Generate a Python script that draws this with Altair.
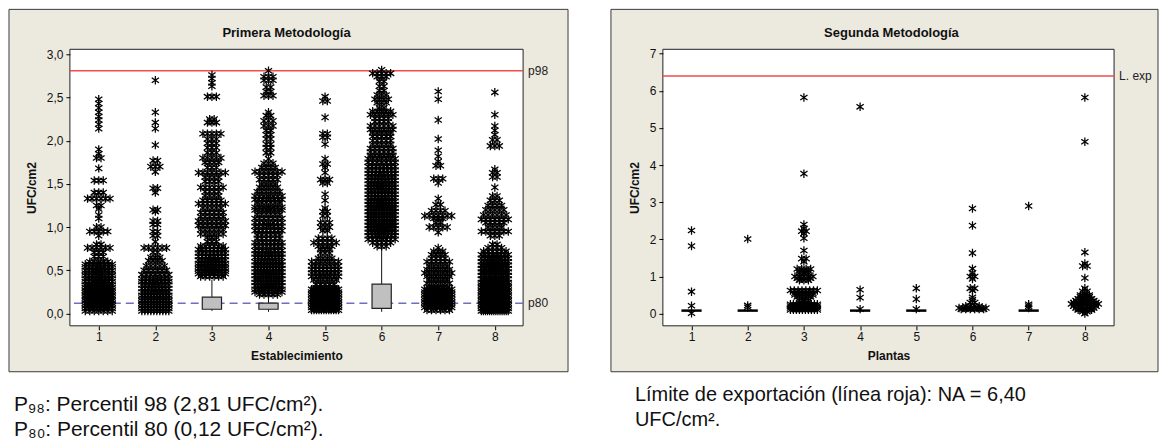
import altair as alt
import pandas as pd

# ---------------- data: Primera Metodología (Establecimiento 1..8) ----------------
g1_vals = [2.48,2.43,2.38,2.33,2.28,2.24,2.19,2.14,1.90,1.85,1.80,1.68,1.54,1.40,1.33,1.25,1.21,1.14,1.10,1.00,0.95,0.90,0.80,0.76,0.71,0.66,0.60,0.57,0.54,0.50,0.47,0.44,0.40,0.37,0.33,0.30,0.27,0.24,0.21,0.18,0.15,0.12,0.09,0.06,0.03]
g1_cnts = [1,1,1,1,1,1,1,1,1,1,2,1,3,3,6,2,1,1,1,2,5,1,2,6,3,3,5,8,8,9,8,9,9,8,10,12,14,16,18,16,14,12,10,8,7]
g2_vals = [2.70,2.33,2.21,2.14,1.95,1.77,1.70,1.64,1.45,1.40,1.20,1.18,1.07,1.03,0.95,0.90,0.83,0.76,0.71,0.65,0.61,0.55,0.50,0.45,0.40,0.37,0.33,0.29,0.25,0.21,0.18,0.15,0.12,0.09,0.06,0.03]
g2_cnts = [1,1,1,1,1,2,3,1,2,1,2,1,2,2,2,2,1,6,2,3,4,5,6,7,8,8,9,9,10,10,10,10,10,10,10,10]
g3_vals = [2.76,2.72,2.67,2.63,2.51,2.25,2.21,2.08,2.02,1.97,1.92,1.86,1.80,1.75,1.69,1.63,1.58,1.53,1.46,1.41,1.36,1.31,1.27,1.22,1.17,1.12,1.07,1.02,0.97,0.92,0.88,0.83,0.78,0.74,0.70,0.66,0.62,0.58,0.55,0.52,0.49,0.46,0.43]
g3_cnts = [1,1,1,1,3,2,3,5,3,3,3,3,5,4,3,7,4,4,6,4,4,5,7,5,6,6,7,7,6,6,3,3,6,8,8,8,9,10,10,10,9,8,6]
g4_vals = [2.81,2.74,2.70,2.62,2.57,2.52,2.33,2.29,2.23,2.17,2.12,2.07,2.02,1.96,1.92,1.86,1.79,1.74,1.69,1.64,1.60,1.55,1.50,1.46,1.41,1.36,1.32,1.28,1.23,1.20,1.15,1.10,1.05,1.01,0.96,0.91,0.87,0.82,0.78,0.73,0.69,0.65,0.60,0.56,0.52,0.48,0.44,0.40,0.36,0.32,0.28,0.25,0.22]
g4_cnts = [1,3,3,2,2,3,1,2,3,3,2,2,2,2,2,2,1,3,4,7,5,5,4,5,6,7,8,6,7,8,6,7,7,8,8,6,6,8,8,8,9,9,10,10,10,10,11,11,11,10,9,7,5]
g5_vals = [2.51,2.46,2.27,2.08,2.04,1.96,1.79,1.73,1.69,1.63,1.55,1.51,1.38,1.31,1.22,1.18,1.13,1.05,1.00,0.96,0.87,0.82,0.78,0.74,0.70,0.64,0.60,0.55,0.51,0.47,0.43,0.39,0.34,0.30,0.28,0.25,0.22,0.19,0.16,0.13,0.10,0.07,0.04]
g5_cnts = [1,2,1,2,2,1,1,2,1,1,3,2,1,1,1,2,2,3,3,2,4,6,4,3,3,4,7,8,8,8,7,6,5,5,14,14,14,14,14,14,14,14,12]
g6_vals = [2.82,2.78,2.74,2.69,2.63,2.58,2.53,2.48,2.44,2.38,2.34,2.30,2.26,2.22,2.17,2.13,2.09,2.05,2.00,1.96,1.91,1.87,1.83,1.79,1.75,1.70,1.66,1.62,1.58,1.54,1.50,1.46,1.42,1.38,1.34,1.30,1.26,1.22,1.18,1.14,1.10,1.06,1.02,0.98,0.94,0.90,0.86,0.82,0.78]
g6_cnts = [1,5,3,2,2,2,3,4,3,2,5,6,4,4,6,6,5,5,5,5,6,6,6,7,7,8,8,8,9,9,10,10,9,9,9,10,10,11,11,11,11,11,11,10,9,8,7,5,3]
g7_vals = [2.57,2.48,2.24,2.02,1.89,1.82,1.76,1.71,1.56,1.51,1.33,1.26,1.19,1.13,1.10,1.05,1.00,0.94,0.76,0.72,0.68,0.64,0.60,0.55,0.51,0.47,0.43,0.39,0.35,0.30,0.28,0.25,0.22,0.19,0.16,0.13,0.10,0.07,0.04]
g7_cnts = [1,1,1,1,1,1,1,2,3,1,1,2,4,7,3,2,5,1,1,3,4,4,6,5,6,7,6,5,6,5,12,12,12,12,12,12,12,10,6]
g8_vals = [2.56,2.30,2.17,2.12,2.07,2.01,1.94,1.67,1.63,1.58,1.46,1.36,1.31,1.25,1.20,1.14,1.09,1.05,1.00,0.95,0.90,0.80,0.76,0.72,0.68,0.64,0.60,0.56,0.52,0.48,0.44,0.40,0.36,0.33,0.30,0.27,0.24,0.21,0.18,0.15,0.12,0.09,0.06,0.03]
g8_cnts = [1,1,1,1,1,2,3,1,2,2,1,2,3,4,5,6,7,5,4,7,3,2,4,6,8,9,10,11,12,12,12,12,13,14,15,15,15,15,15,15,15,15,15,14]

# visible boxes (Establecimiento 3, 4, 6)
box_groups = [3, 4, 6]
box_q1 = [0.05, 0.05, 0.06]
box_q3 = [0.19, 0.12, 0.34]
box_whi = [0.39, 0.22, 0.77]
box_wlo = [0.03, 0.02, 0.02]
p98 = 2.81
p80 = 0.12

# ---------------- data: Segunda Metodología (Plantas 1..8) ----------------
r1_vals = [2.24,1.82,0.59,0.21,0.01];  r1_cnts = [1,1,1,1,1]
r2_vals = [2.01,0.22,0.17];            r2_cnts = [1,1,1]
r3_vals = [5.82,3.77,2.40,2.30,2.22,2.16,2.03,1.70,1.48,1.40,1.20,1.15,1.10,1.00,0.95,0.90,0.62,0.55,0.50,0.45,0.35,0.25,0.20,0.15,0.10]
r3_cnts = [1,1,1,1,2,1,1,1,2,1,4,3,3,5,4,3,8,5,5,4,3,10,12,12,10]
r4_vals = [5.57,0.64,0.43,0.12];       r4_cnts = [1,1,1,1]
r5_vals = [0.68,0.39,0.12];            r5_cnts = [1,1,1]
r6_vals = [2.83,2.37,1.63,1.21,1.10,1.00,0.93,0.68,0.62,0.44,0.38,0.30,0.20,0.15,0.12]
r6_cnts = [1,1,1,1,1,2,1,2,1,1,1,2,4,8,6]
r7_vals = [2.90,0.25,0.20,0.15];       r7_cnts = [1,1,1,1]
r8_vals = [5.82,4.63,1.65,1.35,1.28,0.96,0.68,0.60,0.50,0.45,0.40,0.35,0.30,0.26,0.20,0.15,0.10,0.05,0.00]
r8_cnts = [1,1,1,1,2,1,1,2,3,3,4,5,6,8,6,5,4,2,1]
med_groups = [1, 2, 3, 4, 5, 6, 7, 8]
med_vals = [0.08, 0.08, 0.15, 0.08, 0.08, 0.12, 0.08, 0.08]
lexp = 6.40

groups = [1, 2, 3, 4, 5, 6, 7, 8]

# ---------------- styling ----------------
FONT = "Liberation Sans"
TICKFONT = "Liberation Sans Narrow, Liberation Sans, Arial"
BEIGE = "#ECE9DF"
STAR = "M0,-1L0,1M-0.85,-0.6L0.85,0.6M-0.85,0.6L0.85,-0.6"
H = 277


def expand(vals_list, cnts_list):
    rows = []
    for g, vals, cnts in zip(groups, vals_list, cnts_list):
        for v, c in zip(vals, cnts):
            rows += [{"g": g, "v": v}] * c
    return pd.DataFrame(rows)


def make_panel(df_pts, W, xdom, ydom, yvals, ylabel_expr, title, title_x, xtitle,
               ytitle_x, ref_val, ref_label, bg, extra_layers):
    ppu = W / (xdom[1] - xdom[0])
    xsc = alt.Scale(domain=xdom, nice=False, zero=False)
    ysc = alt.Scale(domain=ydom, nice=False, zero=False)
    xaxis = alt.Axis(values=groups, format="d", title=xtitle, zindex=1, domain=False,
                     tickSize=4, tickColor="black", labelFont=TICKFONT, labelFontSize=12,
                     labelColor="#111", labelPadding=2, grid=False,
                     titleFont=FONT, titleFontSize=12, titleFontWeight="bold", titleColor="#111",
                     titleY=30, titleBaseline="middle")
    yaxis = alt.Axis(values=yvals, labelExpr=ylabel_expr, title="UFC/cm2", zindex=1, domain=False,
                     tickSize=4, tickColor="black", labelFont=TICKFONT, labelFontSize=12,
                     labelColor="#111", labelPadding=3, grid=False,
                     titleFont=FONT, titleFontSize=12, titleFontWeight="bold", titleColor="#111",
                     titleX=ytitle_x, titleY=H / 2, titleAngle=270, titleAlign="center",
                     titleBaseline="middle")

    one = pd.DataFrame({"a": [0]})
    background = alt.Chart(one).mark_rect(fill=BEIGE, stroke="#3a3a3a", strokeWidth=1).encode(
        x=alt.value(bg[0]), x2=alt.value(W + bg[1]), y=alt.value(-40), y2=alt.value(H + 46))
    plot_area = alt.Chart(one).mark_rect(fill="white", stroke="#222", strokeWidth=1).encode(
        x=alt.value(0), x2=alt.value(W), y=alt.value(0), y2=alt.value(H))
    title_mark = alt.Chart(pd.DataFrame({"t": [title]})).mark_text(
        font=FONT, fontSize=13, fontWeight="bold", color="#111", align="center", baseline="middle"
    ).encode(x=alt.value(title_x), y=alt.value(-16), text="t:N")

    ref_df = pd.DataFrame({"ref": [ref_val], "lab": [ref_label]})
    ref_rule = alt.Chart(ref_df).mark_rule(color="#F24B4B", strokeWidth=1.5).encode(
        y=alt.Y("ref:Q", scale=ysc, axis=yaxis))
    ref_text = alt.Chart(ref_df).mark_text(
        font=TICKFONT, fontSize=12, color="#222", align="left", baseline="middle"
    ).encode(x=alt.value(W + 5), y=alt.Y("ref:Q", scale=ysc, axis=yaxis), text="lab:N")

    pts = alt.Chart(df_pts).transform_window(
        rank="row_number()", groupby=["g", "v"]
    ).transform_joinaggregate(
        cnt="count()", groupby=["g", "v"]
    ).transform_calculate(
        w="min((datum.cnt - 1) * 4.5, 27)",
        off="datum.cnt > 1 ? -datum.w / 2 + (datum.rank - 1) * datum.w / (datum.cnt - 1) : 0",
        xp=f"datum.g + datum.off / {ppu}",
    ).mark_point(shape=STAR, size=72, filled=False, stroke="black", strokeWidth=1.25, opacity=1).encode(
        x=alt.X("xp:Q", scale=xsc, axis=xaxis),
        y=alt.Y("v:Q", scale=ysc, axis=yaxis),
    )

    layers = [background, plot_area, ref_rule]
    layers += [f(xsc, ysc, xaxis, yaxis) for f in extra_layers]
    layers += [pts, ref_text, title_mark]
    return alt.layer(*layers).properties(width=W, height=H)


# ---------- left panel ----------
df_left = expand([g1_vals, g2_vals, g3_vals, g4_vals, g5_vals, g6_vals, g7_vals, g8_vals],
                 [g1_cnts, g2_cnts, g3_cnts, g4_cnts, g5_cnts, g6_cnts, g7_cnts, g8_cnts])
box_df = pd.DataFrame({"g": box_groups, "q1": box_q1, "q3": box_q3, "whi": box_whi, "wlo": box_wlo})


def left_p80(xsc, ysc, xaxis, yaxis):
    d = pd.DataFrame({"ref": [p80], "lab": ["p80"]})
    rule = alt.Chart(d).mark_rule(color="#6F6FC0", strokeWidth=1.5, strokeDash=[8, 5]).encode(
        y=alt.Y("ref:Q", scale=ysc, axis=yaxis))
    txt = alt.Chart(d).mark_text(font=TICKFONT, fontSize=12, color="#222", align="left",
                                 baseline="middle").encode(
        x=alt.value(454 + 5), y=alt.Y("ref:Q", scale=ysc, axis=yaxis), text="lab:N")
    return alt.layer(rule, txt)


def left_boxes(xsc, ysc, xaxis, yaxis):
    base = alt.Chart(box_df).transform_calculate(xl="datum.g - 0.17", xr="datum.g + 0.17")
    whisk_hi = base.mark_rule(color="#111", strokeWidth=1).encode(
        x=alt.X("g:Q", scale=xsc, axis=xaxis), y=alt.Y("q3:Q", scale=ysc, axis=yaxis), y2="whi:Q")
    whisk_lo = base.mark_rule(color="#111", strokeWidth=1).encode(
        x=alt.X("g:Q", scale=xsc, axis=xaxis), y=alt.Y("wlo:Q", scale=ysc, axis=yaxis), y2="q1:Q")
    box = base.mark_rect(fill="#C0C0C0", stroke="#222", strokeWidth=1.2).encode(
        x=alt.X("xl:Q", scale=xsc, axis=xaxis), x2="xr:Q",
        y=alt.Y("q1:Q", scale=ysc, axis=yaxis), y2="q3:Q")
    return alt.layer(whisk_hi, whisk_lo, box)


left = make_panel(df_left, 454, [0.49, 8.5], [-0.142, 3.058], [0, 0.5, 1, 1.5, 2, 2.5, 3],
                  "replace(format(datum.value, '.1f'), '.', ',')",
                  "Primera Metodología", 217, "Establecimiento", -38,
                  p98, "p98", (-61, 45), [left_p80, left_boxes])

cap_left = alt.Chart(pd.DataFrame({"t": ["P₉₈: Percentil 98 (2,81 UFC/cm²).\nP₈₀: Percentil 80 (0,12 UFC/cm²)."]})).mark_text(
    font=FONT, fontSize=21, color="#111", align="left", baseline="alphabetic", lineBreak="\n", lineHeight=25
).encode(x=alt.value(-56), y=alt.value(362), text="t:N")
left = alt.layer(left, cap_left)

# ---------- right panel ----------
df_right = expand([r1_vals, r2_vals, r3_vals, r4_vals, r5_vals, r6_vals, r7_vals, r8_vals],
                  [r1_cnts, r2_cnts, r3_cnts, r4_cnts, r5_cnts, r6_cnts, r7_cnts, r8_cnts])
med_df = pd.DataFrame({"g": med_groups, "m": med_vals})


def right_meds(xsc, ysc, xaxis, yaxis):
    return alt.Chart(med_df).transform_calculate(xl="datum.g - 0.18", xr="datum.g + 0.18").mark_rule(
        color="black", strokeWidth=2.5).encode(
        x=alt.X("xl:Q", scale=xsc, axis=xaxis), x2="xr:Q", y=alt.Y("m:Q", scale=ysc, axis=yaxis))


right = make_panel(df_right, 452, [0.49, 8.52], [-0.33, 7.12], [0, 1, 2, 3, 4, 5, 6, 7],
                   "format(datum.value, 'd')",
                   "Segunda Metodología", 229, "Plantas", -28,
                   lexp, "L. exp", (-52, 44), [right_meds])

cap_right = alt.Chart(pd.DataFrame({"t": ["Límite de exportación (línea roja): NA = 6,40\nUFC/cm²."]})).mark_text(
    font=FONT, fontSize=20, color="#111", align="left", baseline="alphabetic", lineBreak="\n", lineHeight=25
).encode(x=alt.value(-28), y=alt.value(352), text="t:N")
right = alt.layer(right, cap_right)

chart = alt.hconcat(left, right, spacing=140, bounds="flush").properties(
    padding={"left": 0, "top": 0, "right": 0, "bottom": 0}, background="white"
).configure_view(stroke=None)

chart.save("out.html", embed_options={"renderer": "svg", "actions": False})
